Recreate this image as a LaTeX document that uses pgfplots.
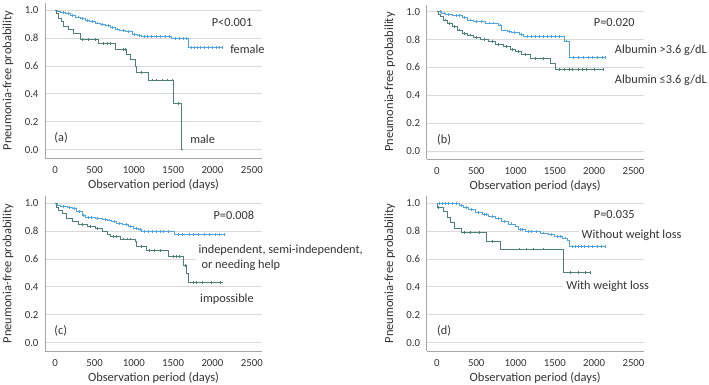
\documentclass[border=0pt]{standalone}
\usepackage{fontspec}
\setmainfont{Carlito}
\usepackage{pgfplots}
\pgfplotsset{compat=1.18}
\definecolor{kmblue}{HTML}{4EA5E0}
\definecolor{kmgreen}{HTML}{4E8077}
\definecolor{txtgray}{HTML}{333333}
\definecolor{gridgray}{HTML}{D9D9D9}
\definecolor{axgray}{HTML}{A6A6A6}
\tikzset{lbl/.style={anchor=west, font=\fontsize{12.3}{15}\selectfont, text=txtgray, fill=white, inner xsep=3pt, inner ysep=3pt, xshift=-3pt}}
\pgfplotsset{
  kmaxis/.style={
    width=217pt, height=154.6pt, scale only axis,
    xmin=-130, xmax=2630, ymin=-0.06, ymax=1.05,
    axis lines*=left,
    axis line style={color=axgray, line width=0.8pt},
    xtick={0,500,1000,1500,2000,2500},
    ytick={0,0.2,0.4,0.6,0.8,1.0},
    yticklabel style={/pgf/number format/fixed, /pgf/number format/fixed zerofill, /pgf/number format/precision=1, /pgf/number format/assume math mode=true, xshift=-3pt},
    xticklabel style={/pgf/number format/fixed, /pgf/number format/set thousands separator={}, /pgf/number format/assume math mode=true, yshift=-5pt},
    ymajorgrids, grid style={color=gridgray, line width=0.7pt},
    major tick length=0pt,
    tick label style={font=\fontsize{10.8}{12}\selectfont, text=txtgray},
    xlabel={Observation period (days)},
    ylabel={Pneumonia-free probability},
    label style={font=\fontsize{12.5}{14}\selectfont, text=txtgray},
    xlabel style={at={(axis description cs:0.5,0)}, anchor=center, yshift=-27pt},
    ylabel style={at={(axis description cs:0,0.5)}, anchor=center, rotate=0, yshift=37pt},
    clip=false,
  },
  bline/.style={const plot, color=kmblue, line width=0.75pt, mark=none},
  gline/.style={const plot, color=kmgreen, line width=0.75pt, mark=none},
  bcens/.style={only marks, color=kmblue, mark=|, mark size=1.4pt, mark options={line width=0.5pt}},
  gcens/.style={only marks, color=kmgreen, mark=|, mark size=1.4pt, mark options={line width=0.5pt}},
}
\begin{document}
\begin{tikzpicture}
% ---------------- (a)
\begin{axis}[kmaxis, at={(45pt,380.7pt)}, anchor=north west]
\addplot[bline] coordinates {(0,1) (30,0.99) (70,0.982) (127,0.975) (190,0.963) (254,0.952) (320,0.94) (381,0.928) (440,0.918) (508,0.909) (570,0.90) (636,0.89) (700,0.878) (763,0.866) (820,0.855) (890,0.845) (975,0.828) (1040,0.82) (1102,0.812) (1480,0.797) (1690,0.73) (2130,0.73)};
\addplot[gline] coordinates {(0,1) (20,0.975) (45,0.945) (75,0.92) (110,0.885) (170,0.86) (235,0.835) (318,0.79) (551,0.762) (763,0.72) (911,0.68) (953,0.645) (1017,0.598) (1038,0.555) (1186,0.50) (1504,0.333) (1610,0) (1612,0)};
\addplot[bcens] coordinates {(100,0.982) (160,0.975) (220,0.963) (290,0.952) (350,0.94) (410,0.928) (470,0.918) (540,0.909) (600,0.90) (670,0.89) (730,0.878) (790,0.866) (860,0.855) (930,0.845) (1000,0.828) (1070,0.82) (1130,0.812) (1170,0.812) (1220,0.812) (1280,0.812) (1340,0.812) (1400,0.812) (1450,0.812) (1530,0.797) (1580,0.797) (1630,0.797) (1670,0.797) (1730,0.73) (1770,0.73) (1810,0.73) (1850,0.73) (1900,0.73) (1950,0.73) (2000,0.73) (2050,0.73) (2090,0.73) (2130,0.73)};
\addplot[gcens] coordinates {(339,0.79) (424,0.79) (508,0.79) (614,0.762) (657,0.762) (699,0.762) (870,0.72) (890,0.72) (1100,0.555) (1230,0.50) (1290,0.50) (1356,0.50) (1420,0.50) (1483,0.50) (1568,0.333)};
\node[lbl] at (axis cs:1990,0.914) {P<0.001};
\node[lbl] at (axis cs:2224,0.723) {female};
\node[lbl] at (axis cs:1715,0.077) {male};
\node[lbl] at (axis cs:-13,0.084) {(a)};
\end{axis}
% ---------------- (b)
\begin{axis}[kmaxis, at={(426.7pt,379.3pt)}, anchor=north west]
\addplot[bline] coordinates {(0,1) (60,0.99) (106,0.981) (200,0.972) (318,0.959) (381,0.94) (466,0.928) (620,0.918) (784,0.904) (826,0.868) (900,0.858) (953,0.851) (1050,0.835) (1102,0.82) (1615,0.79) (1690,0.672) (2135,0.672)};
\addplot[gline] coordinates {(0,1) (15,0.98) (42,0.964) (85,0.94) (127,0.916) (191,0.892) (254,0.868) (318,0.845) (381,0.832) (466,0.815) (551,0.80) (657,0.785) (742,0.765) (847,0.748) (932,0.729) (1000,0.715) (1080,0.695) (1186,0.665) (1441,0.632) (1504,0.585) (2115,0.585)};
\addplot[bcens] coordinates {(40,1) (90,0.99) (150,0.981) (250,0.972) (290,0.972) (350,0.959) (420,0.94) (500,0.928) (560,0.928) (660,0.918) (720,0.918) (800,0.904) (920,0.858) (980,0.851) (1070,0.835) (1150,0.82) (1200,0.82) (1250,0.82) (1300,0.82) (1350,0.82) (1400,0.82) (1450,0.82) (1500,0.82) (1550,0.82) (1650,0.79) (1740,0.672) (1800,0.672) (1860,0.672) (1920,0.672) (1980,0.672) (2040,0.672) (2100,0.672) (2135,0.672)};
\addplot[gcens] coordinates {(100,0.94) (160,0.916) (220,0.892) (290,0.868) (350,0.845) (420,0.832) (500,0.815) (600,0.80) (700,0.785) (780,0.765) (880,0.748) (960,0.729) (1040,0.715) (1120,0.695) (1250,0.665) (1350,0.665) (1550,0.585) (1620,0.585) (1680,0.585) (1720,0.585) (1800,0.585) (1850,0.585) (1900,0.585) (2000,0.585) (2115,0.585)};
\node[lbl] at (axis cs:1995,0.921) {P=0.020};
\node[lbl] at (axis cs:2262,0.724) {Albumin >3.6 g/dL};
\node[lbl] at (axis cs:2262,0.509) {Albumin ≤3.6 g/dL};
\node[lbl] at (axis cs:0,0.082) {(b)};
\end{axis}
% ---------------- (c)
\begin{axis}[kmaxis, at={(45pt,187.7pt)}, anchor=north west]
\addplot[bline] coordinates {(0,1) (30,0.985) (64,0.976) (150,0.97) (212,0.962) (275,0.94) (339,0.915) (381,0.9) (508,0.893) (600,0.886) (657,0.88) (720,0.868) (784,0.857) (860,0.845) (932,0.833) (1000,0.82) (1059,0.81) (1102,0.795) (1520,0.774) (2150,0.774)};
\addplot[gline] coordinates {(0,1) (20,0.97) (42,0.952) (85,0.929) (148,0.893) (212,0.869) (297,0.85) (403,0.833) (508,0.821) (600,0.80) (657,0.779) (699,0.762) (826,0.743) (1017,0.726) (1038,0.69) (1165,0.66) (1441,0.62) (1625,0.552) (1670,0.50) (1695,0.43) (2130,0.43)};
\addplot[bcens] coordinates {(100,0.976) (180,0.97) (240,0.962) (300,0.94) (360,0.915) (420,0.9) (460,0.9) (540,0.893) (630,0.886) (690,0.88) (750,0.868) (820,0.857) (900,0.845) (960,0.833) (1030,0.82) (1080,0.81) (1130,0.795) (1180,0.795) (1230,0.795) (1280,0.795) (1330,0.795) (1380,0.795) (1440,0.795) (1560,0.774) (1620,0.774) (1700,0.774) (1760,0.774) (1820,0.774) (1900,0.774) (1960,0.774) (2030,0.774) (2090,0.774) (2150,0.774)};
\addplot[gcens] coordinates {(350,0.85) (450,0.833) (540,0.821) (740,0.762) (780,0.762) (870,0.743) (910,0.743) (950,0.743) (1100,0.69) (1200,0.66) (1260,0.66) (1330,0.66) (1500,0.62) (1540,0.62) (1580,0.62) (1650,0.552) (1750,0.43) (1800,0.43) (1870,0.43) (1980,0.43) (2100,0.43)};
\node[lbl] at (axis cs:2011,0.916) {P=0.008};
\node[lbl, align=left] at (axis cs:1821,0.6055) {independent, semi-independent,\\\hspace{0.25em}or needing help};
\node[lbl] at (axis cs:1842,0.309) {impossible};
\node[lbl] at (axis cs:-13,0.083) {(c)};
\end{axis}
% ---------------- (d)
\begin{axis}[kmaxis, at={(426.7pt,187.7pt)}, anchor=north west]
\addplot[bline] coordinates {(0,1) (280,0.983) (339,0.97) (403,0.955) (487,0.935) (572,0.92) (657,0.905) (742,0.888) (826,0.87) (911,0.852) (996,0.833) (1040,0.81) (1123,0.798) (1314,0.786) (1420,0.774) (1490,0.76) (1600,0.75) (1660,0.735) (1690,0.688) (2135,0.688)};
\addplot[gline] coordinates {(0,1) (8,0.972) (85,0.94) (127,0.90) (170,0.863) (220,0.822) (305,0.79) (625,0.727) (810,0.672) (1605,0.505) (1950,0.505)};
\addplot[bcens] coordinates {(30,1) (70,1) (110,1) (150,1) (190,1) (240,1) (310,0.983) (370,0.97) (440,0.955) (520,0.935) (600,0.92) (630,0.92) (700,0.905) (780,0.888) (860,0.87) (950,0.852) (1060,0.81) (1090,0.81) (1160,0.798) (1200,0.798) (1260,0.798) (1350,0.786) (1450,0.774) (1530,0.76) (1570,0.76) (1630,0.75) (1720,0.688) (1760,0.688) (1800,0.688) (1840,0.688) (1880,0.688) (1920,0.688) (1980,0.688) (2040,0.688) (2090,0.688) (2135,0.688)};
\addplot[gcens] coordinates {(20,0.972) (350,0.79) (420,0.79) (540,0.79) (700,0.727) (1050,0.672) (1130,0.672) (1230,0.672) (1350,0.672) (1700,0.505) (1800,0.505) (1890,0.505) (1950,0.505)};
\node[lbl] at (axis cs:1995,0.916) {P=0.035};
\node[lbl] at (axis cs:1838,0.769) {Without weight loss};
\node[lbl] at (axis cs:1643,0.404) {With weight loss};
\node[lbl] at (axis cs:0,0.083) {(d)};
\end{axis}
\pgfresetboundingbox
\path[use as bounding box] (0pt,0pt) rectangle (709pt,384pt);
\end{tikzpicture}
\end{document}
